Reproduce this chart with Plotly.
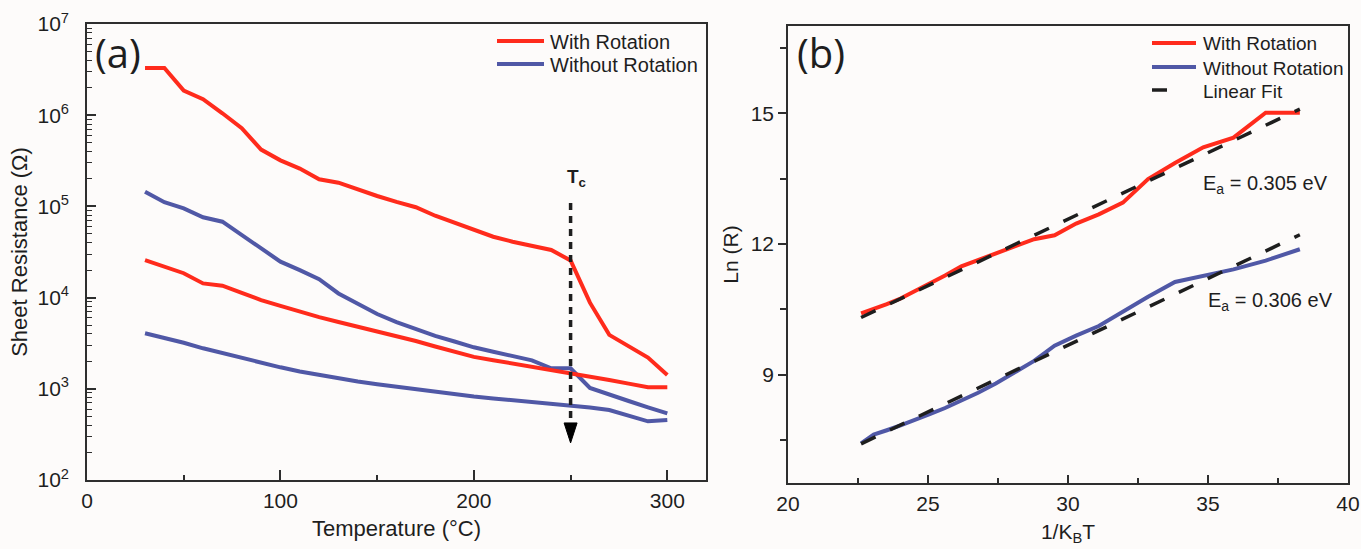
import plotly.graph_objects as go

# ---- Panel (a): sheet resistance vs temperature ----
temp_c = [30, 40, 50, 60, 70, 80, 90, 100, 110, 120,
          130, 140, 150, 160, 170, 180, 190, 200, 210, 220,
          230, 240, 250, 260, 270, 280, 290, 300]

r_with_1 = [3.3e6, 3.3e6, 1.86e6, 1.5e6, 1.05e6, 7.2e5, 4.2e5, 3.2e5, 2.6e5, 1.98e5,
            1.82e5, 1.53e5, 1.3e5, 1.12e5, 9.8e4, 7.9e4, 6.6e4, 5.45e4, 4.65e4, 4.1e4,
            3.66e4, 3.33e4, 2.55e4, 8.8e3, 3.9e3, 2.95e3, 2.2e3, 1.42e3]

r_without_1 = [1.45e5, 1.11e5, 9.5e4, 7.6e4, 6.8e4, 4.86e4, 3.4e4, 2.48e4, 2.0e4, 1.59e4,
               1.11e4, 8.5e3, 6.6e3, 5.4e3, 4.5e3, 3.8e3, 3.3e3, 2.85e3, 2.55e3, 2.28e3,
               2.05e3, 1.68e3, 1.68e3, 1.02e3, 855, 735, 627, 538]

r_with_2 = [2.58e4, 2.19e4, 1.85e4, 1.43e4, 1.35e4, 1.13e4, 9.4e3, 8.1e3, 7.0e3, 6.1e3,
            5.4e3, 4.8e3, 4.3e3, 3.82e3, 3.34e3, 2.91e3, 2.54e3, 2.24e3, 2.06e3, 1.9e3,
            1.76e3, 1.62e3, 1.5e3, 1.37e3, 1.25e3, 1.14e3, 1.04e3, 1.04e3]

r_without_2 = [4.06e3, 3.65e3, 3.2e3, 2.78e3, 2.45e3, 2.2e3, 1.95e3, 1.72e3, 1.55e3, 1.42e3,
               1.30e3, 1.20e3, 1.12e3, 1.05e3, 985, 925, 870, 825, 785, 752,
               720, 690, 660, 625, 585, 510, 440, 455]

# transition temperature marker (°C) and the span of its dashed guide (Ω)
tc_temp = 250
tc_span = [1.09e5, 255]

# ---- Panel (b): Arrhenius plot, 30–240 °C ----
inv_kbt = [38.28, 37.06, 35.91, 34.83, 33.82, 32.86, 31.96, 31.10, 30.29, 29.52, 28.79,
           28.09, 27.42, 26.79, 26.19, 25.61, 25.06, 24.53, 24.02, 23.53, 23.06, 22.61]

ln_with = [15.01, 15.01, 14.44, 14.22, 13.86, 13.49, 12.95, 12.68, 12.47, 12.20, 12.11,
           11.94, 11.78, 11.63, 11.49, 11.28, 11.10, 10.91, 10.75, 10.62, 10.51, 10.41]

ln_without = [11.88, 11.62, 11.42, 11.26, 11.13, 10.79, 10.45, 10.12, 9.90, 9.67, 9.32,
              9.05, 8.80, 8.59, 8.41, 8.24, 8.10, 7.96, 7.84, 7.73, 7.63, 7.43]

ea_with, ea_without = 0.305, 0.306          # activation energies (eV) = fit slopes
fit_icpt_with, fit_icpt_without = 3.42, 0.50  # fit intercepts

RED = "#FF2B1C"
BLUE = "#5058A6"
INK = "#1E1E1E"
AXIS = "#2E2E2E"
BG = "#FDFBFA"
FONT = "Liberation Sans"

W, H = 1361, 549


def px(x):
    return x / W


def py(y):
    return 1 - y / H


fig = go.Figure()

line_w = 4
for ys, color in [(r_with_1, RED), (r_without_1, BLUE), (r_with_2, RED), (r_without_2, BLUE)]:
    fig.add_trace(go.Scatter(x=temp_c, y=ys, mode="lines",
                             line=dict(color=color, width=line_w), showlegend=False))

# dashed arrow at Tc
fig.add_trace(go.Scatter(x=[tc_temp, tc_temp], y=tc_span, mode="lines+markers",
                         line=dict(color=INK, width=3.5, dash="7px,6px"),
                         marker=dict(symbol="arrow", size=[0, 21], angleref="previous",
                                     color="#000000", opacity=1,
                                     line=dict(width=1, color="#000000")),
                         showlegend=False, hoverinfo="skip"))

# panel (b)
fig.add_trace(go.Scatter(x=inv_kbt, y=ln_with, mode="lines",
                         line=dict(color=RED, width=line_w), xaxis="x2", yaxis="y2",
                         showlegend=False))
fig.add_trace(go.Scatter(x=inv_kbt, y=ln_without, mode="lines",
                         line=dict(color=BLUE, width=line_w), xaxis="x2", yaxis="y2",
                         showlegend=False))

fit_x = [inv_kbt[-1], inv_kbt[0]]
fit_dash = dict(color=INK, width=3.5, dash="16px,16px")
fig.add_trace(go.Scatter(x=fit_x, y=[fit_icpt_with + ea_with * v for v in fit_x],
                         mode="lines", line=fit_dash, xaxis="x2", yaxis="y2",
                         showlegend=False))
fig.add_trace(go.Scatter(x=fit_x, y=[fit_icpt_without + ea_without * v for v in fit_x],
                         mode="lines", line=fit_dash, xaxis="x2", yaxis="y2",
                         showlegend=False))

axis_common = dict(showline=True, linecolor=AXIS, linewidth=1.6, mirror=True,
                   showgrid=False, zeroline=False, tickcolor=AXIS, tickwidth=1.6,
                   tickfont=dict(family=FONT, size=21, color=INK),
                   title_font=dict(family=FONT, size=21, color=INK),
                   automargin=False)

decades = [1e2, 1e3, 1e4, 1e5, 1e6, 1e7]
minor_vals = [m * d for d in decades[:-1] for m in range(2, 10)]

fig.update_layout(
    width=W, height=H,
    margin=dict(l=0, r=0, t=0, b=0),
    paper_bgcolor=BG, plot_bgcolor=BG,
    font=dict(family=FONT, color=INK),
    showlegend=False,
    xaxis=dict(axis_common, domain=[px(87), px(706)], range=[0, 320],
               tickvals=[0, 100, 200, 300], ticks="inside", ticklen=10,
               ticklabelstandoff=1,
               minor=dict(tickvals=[50, 150, 250], ticks="inside", ticklen=5,
                          tickcolor=AXIS, tickwidth=1.6),
               title=dict(text="Temperature (°C)", standoff=10,
                          font=dict(family=FONT, size=22, color=INK)), anchor="y"),
    yaxis=dict(axis_common, domain=[py(480), py(24)], type="log", range=[2, 7],
               tickvals=decades,
               ticktext=["10<sup>%d</sup>" % k for k in range(2, 8)],
               ticks="inside", ticklen=9, ticklabelstandoff=12,
               minor=dict(tickvals=minor_vals, ticks="inside", ticklen=5,
                          tickcolor=AXIS, tickwidth=1.4),
               title=dict(text="Sheet Resistance (Ω)", standoff=4,
                          font=dict(family=FONT, size=22, color=INK)), anchor="x"),
    xaxis2=dict(axis_common, domain=[px(788), px(1348)], range=[20, 40],
                tickvals=[20, 25, 30, 35, 40], ticks="inside", ticklen=8,
                ticklabelstandoff=1,
                minor=dict(tickvals=[22.5, 27.5, 32.5, 37.5], ticks="inside", ticklen=5,
                           tickcolor=AXIS, tickwidth=1.6),
                title=dict(text="1/K<sub>B</sub>T", standoff=10), anchor="y2"),
    yaxis2=dict(axis_common, domain=[py(483), py(26)], range=[6.52, 17],
                tickvals=[9, 12, 15], ticks="outside", ticklen=8,
                minor=dict(tickvals=[7.5, 10.5, 13.5, 16.5], ticks="outside", ticklen=6,
                           tickcolor=AXIS, tickwidth=1.6),
                title=dict(text="Ln (R)", standoff=6), anchor="x2"),
)

# legend keys and labels
legend_rows = [
    # (line x0, line x1, row y, text x, label, colour, font size)
    (497, 544, 41, 548, "With Rotation", RED, 20),
    (497, 544, 64, 548, "Without Rotation", BLUE, 20),
    (1152, 1196, 43, 1201, "With Rotation", RED, 19),
    (1152, 1196, 67, 1201, "Without Rotation", BLUE, 19),
    (1152, 1167, 90, 1201, "Linear Fit", INK, 19),
]
for x0, x1, yy, tx, label, color, fsize in legend_rows:
    fig.add_shape(type="line", xref="paper", yref="paper",
                  x0=px(x0), x1=px(x1), y0=py(yy), y1=py(yy),
                  line=dict(color=color, width=4 if color != INK else 3.5))
    fig.add_annotation(text=label, x=px(tx), y=py(yy + 1), xref="paper", yref="paper",
                       xanchor="left", yanchor="middle", showarrow=False,
                       font=dict(family=FONT, size=fsize, color=INK))

fig.add_annotation(text="(a)", x=px(93), y=py(53), xref="paper", yref="paper",
                   xanchor="left", yanchor="middle", showarrow=False,
                   font=dict(family="Open Sans, sans-serif", size=40, color=INK))
fig.add_annotation(text="(b)", x=px(795), y=py(53), xref="paper", yref="paper",
                   xanchor="left", yanchor="middle", showarrow=False,
                   font=dict(family="Open Sans, sans-serif", size=40, color=INK))
fig.add_annotation(text="<b>T<sub>c</sub></b>", x=px(565), y=py(178), xref="paper",
                   yref="paper", xanchor="left", yanchor="middle", showarrow=False,
                   font=dict(family=FONT, size=19, color=INK))
fig.add_annotation(text="E<sub>a</sub> = %.3f eV" % ea_with, x=px(1201), y=py(184),
                   xref="paper", yref="paper", xanchor="left", yanchor="middle",
                   showarrow=False, font=dict(family=FONT, size=20, color=INK))
fig.add_annotation(text="E<sub>a</sub> = %.3f eV" % ea_without, x=px(1206), y=py(301),
                   xref="paper", yref="paper", xanchor="left", yanchor="middle",
                   showarrow=False, font=dict(family=FONT, size=20, color=INK))

fig.write_html("out.html")
